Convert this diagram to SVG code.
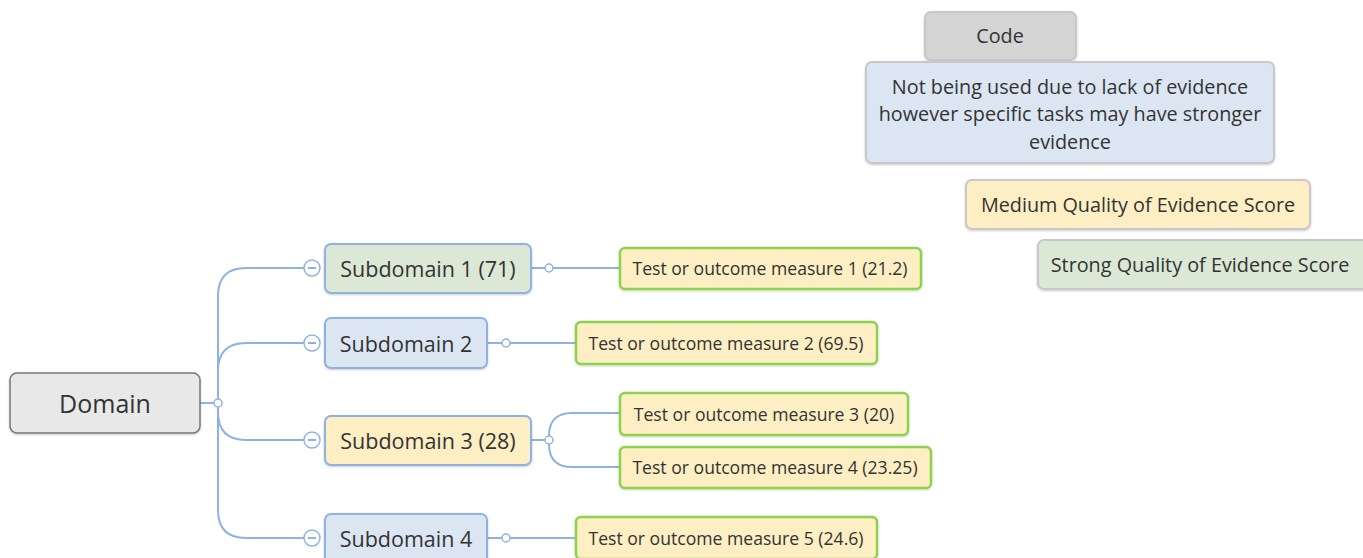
<svg xmlns="http://www.w3.org/2000/svg" width="1363" height="558" viewBox="0 0 1363 558">
<defs>
<filter id="sh" x="-10%" y="-20%" width="120%" height="150%">
<feDropShadow dx="0" dy="1" stdDeviation="1" flood-color="#000" flood-opacity="0.2"/>
</filter>
</defs>
<style>
text{font-family:"Open Sans","Noto Sans","Liberation Sans",sans-serif;fill:#333;text-anchor:middle;dominant-baseline:central}
.conn path,.conn line{fill:none;stroke:#8fb2e3;stroke-width:2}
.dot{fill:#fff;stroke:#8fb2e3;stroke-width:1.5}
.col{fill:#fff;stroke:#8fb2e3;stroke-width:1.5}
.minus{stroke:#666;stroke-width:1.5}
.sub{stroke:#8fb2e3;stroke-width:2;filter:url(#sh)}
.test{fill:#fdefc3;stroke:#8dd14d;stroke-width:2.5;filter:url(#sh)}
.leg{stroke:#c8c8c8;stroke-width:2;filter:url(#sh)}
.t20{font-size:21.5px}
.t16{font-size:17.6px}
.t18{font-size:19.8px}
</style>
<g class="conn">
<line x1="200" y1="403" x2="214" y2="403"/>
<path d="M218,399 V296 Q218,268 246,268 H304"/>
<path d="M218,399 V371 Q218,343 246,343 H304"/>
<path d="M218,407 V412 Q218,440 246,440 H304"/>
<path d="M218,407 V510 Q218,538 246,538 H304"/>
<line x1="531" y1="268" x2="545" y2="268"/>
<line x1="553" y1="268" x2="620" y2="268"/>
<line x1="487" y1="343" x2="502" y2="343"/>
<line x1="510" y1="343" x2="576" y2="343"/>
<line x1="531" y1="440" x2="545" y2="440"/>
<path d="M549,436 Q549,413 572,413 H620"/>
<path d="M549,444 Q549,467 572,467 H620"/>
<line x1="487" y1="538" x2="502" y2="538"/>
<line x1="510" y1="538" x2="576" y2="538"/>
<circle class="dot" cx="218" cy="403" r="4"/>
<circle class="dot" cx="549" cy="268" r="4"/>
<circle class="dot" cx="506" cy="343" r="4"/>
<circle class="dot" cx="549" cy="440" r="4"/>
<circle class="dot" cx="506" cy="538" r="4"/>
<g><circle class="col" cx="312" cy="268" r="8"/><line class="minus" x1="308" y1="268" x2="316" y2="268"/></g>
<g><circle class="col" cx="312" cy="343" r="8"/><line class="minus" x1="308" y1="343" x2="316" y2="343"/></g>
<g><circle class="col" cx="312" cy="440" r="8"/><line class="minus" x1="308" y1="440" x2="316" y2="440"/></g>
<g><circle class="col" cx="312" cy="538" r="8"/><line class="minus" x1="308" y1="538" x2="316" y2="538"/></g>
</g>
<g id="domain">
<rect x="10" y="373" width="190" height="60" rx="7" fill="#e8e8e8" stroke="#777" stroke-width="1.5" filter="url(#sh)"/>
<text x="105" y="403" style="font-size:25px">Domain</text>
</g>
<g id="sub1">
<rect class="sub" x="325" y="244" width="206" height="49" rx="6" fill="#dbe8d5"/>
<text class="t20" x="428" y="268">Subdomain 1 (71)</text>
</g>
<g id="sub2">
<rect class="sub" x="325" y="318" width="162" height="50" rx="6" fill="#dce6f3"/>
<text class="t20" x="406" y="343">Subdomain 2</text>
</g>
<g id="sub3">
<rect class="sub" x="325" y="416" width="206" height="49" rx="6" fill="#fdefc3"/>
<text class="t20" x="428" y="440">Subdomain 3 (28)</text>
</g>
<g id="sub4">
<rect class="sub" x="325" y="514" width="162" height="50" rx="6" fill="#dce6f3"/>
<text class="t20" x="406" y="538">Subdomain 4</text>
</g>
<g id="test1">
<rect class="test" x="620" y="248" width="301" height="41" rx="5"/>
<text class="t16" x="770" y="268">Test or outcome measure 1 (21.2)</text>
</g>
<g id="test2">
<rect class="test" x="576" y="322" width="301" height="42" rx="5"/>
<text class="t16" x="726" y="343">Test or outcome measure 2 (69.5)</text>
</g>
<g id="test3">
<rect class="test" x="620" y="393" width="288" height="42" rx="5"/>
<text class="t16" x="764" y="414">Test or outcome measure 3 (20)</text>
</g>
<g id="test4">
<rect class="test" x="620" y="447" width="311" height="41" rx="5"/>
<text class="t16" x="775" y="467">Test or outcome measure 4 (23.25)</text>
</g>
<g id="test5">
<rect class="test" x="576" y="517" width="301" height="42" rx="5"/>
<text class="t16" x="726" y="538">Test or outcome measure 5 (24.6)</text>
</g>
<g id="legend-code">
<rect class="leg" x="925" y="12" width="151" height="48" rx="6" fill="#d4d4d4"/>
<text class="t18" x="1000" y="35">Code</text>
</g>
<g id="legend-none">
<rect class="leg" x="866" y="62" width="408" height="101" rx="6" fill="#dce6f2"/>
<text class="t18" x="1070" y="86">Not being used due to lack of evidence</text>
<text class="t18" x="1070" y="113">however specific tasks may have stronger</text>
<text class="t18" x="1070" y="141">evidence</text>
</g>
<g id="legend-medium">
<rect class="leg" x="966" y="180" width="344" height="49" rx="6" fill="#fdefc3"/>
<text class="t18" x="1138" y="204">Medium Quality of Evidence Score</text>
</g>
<g id="legend-strong">
<rect class="leg" x="1038" y="240" width="335" height="49" rx="6" fill="#dbe8d5"/>
<text class="t18" x="1200" y="264">Strong Quality of Evidence Score</text>
</g>
</svg>
